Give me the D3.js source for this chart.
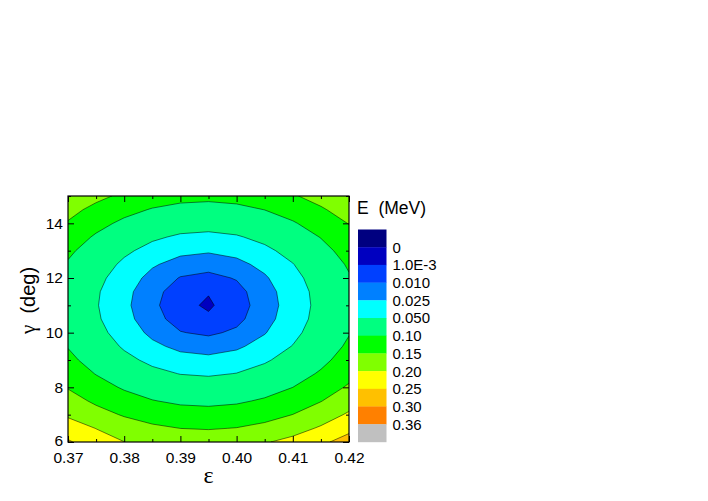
<!DOCTYPE html>
<html>
<head>
<meta charset="utf-8">
<script src="https://cdn.jsdelivr.net/npm/d3@7"></script>
<style>
  body { margin: 0; background: #fff; }
  text { font-family: Arial, 'Liberation Sans', sans-serif; fill: #000; }
</style>
</head>
<body>
<div id="chart"></div>
<script>
// grid of the energy surface, rows = gamma (bottom to top), columns = epsilon
const epsValues = [0.37, 0.375, 0.38, 0.385, 0.39, 0.395, 0.40, 0.405, 0.41, 0.415, 0.42]
const gammaValues = [6, 6.5, 7, 7.5, 8, 8.5, 9, 9.5, 10, 10.5, 11, 11.5, 12, 12.5, 13, 13.5, 14, 14.5, 15]

const energy = [
  [0.255, 0.226, 0.2005, 0.188, 0.181, 0.179, 0.184, 0.196, 0.214, 0.240, 0.271],
  [0.228, 0.199, 0.176, 0.1595, 0.1498, 0.147, 0.1515, 0.163, 0.181, 0.206, 0.237],
  [0.192, 0.1685, 0.1455, 0.129, 0.1193, 0.1165, 0.121, 0.1325, 0.1505, 0.1755, 0.2065],
  [0.1705, 0.1415, 0.1185, 0.102, 0.0923, 0.0895, 0.094, 0.1055, 0.1235, 0.1485, 0.1795],
  [0.147, 0.118, 0.095, 0.0785, 0.0688, 0.066, 0.0705, 0.082, 0.100, 0.125, 0.156],
  [0.1272, 0.0982, 0.0752, 0.0587, 0.049, 0.0462, 0.0507, 0.0622, 0.0802, 0.1052, 0.1362],
  [0.1108, 0.0818, 0.0588, 0.0423, 0.0326, 0.0298, 0.0343, 0.0458, 0.0638, 0.0888, 0.1198],
  [0.0981, 0.0691, 0.0461, 0.0296, 0.0199, 0.0171, 0.0216, 0.0331, 0.0511, 0.0761, 0.1071],
  [0.0888, 0.0598, 0.0368, 0.0203, 0.0106, 0.0078, 0.0123, 0.0238, 0.0418, 0.0668, 0.0978],
  [0.0831, 0.0541, 0.0311, 0.0146, 0.0049, 0.0021, 0.0066, 0.0181, 0.0361, 0.0611, 0.0921],
  [0.081, 0.052, 0.029, 0.0125, 0.0028, 0.0001, 0.0045, 0.016, 0.034, 0.059, 0.090],
  [0.0824, 0.0534, 0.0304, 0.0139, 0.0042, 0.0014, 0.0059, 0.0174, 0.0354, 0.0604, 0.0914],
  [0.0874, 0.0584, 0.0354, 0.0189, 0.0092, 0.0064, 0.0109, 0.0224, 0.0404, 0.0654, 0.0964],
  [0.0959, 0.0669, 0.0439, 0.0274, 0.0177, 0.0149, 0.0194, 0.0309, 0.0489, 0.0739, 0.1049],
  [0.108, 0.079, 0.056, 0.0395, 0.0298, 0.027, 0.0315, 0.043, 0.061, 0.086, 0.117],
  [0.1236, 0.0946, 0.0716, 0.0551, 0.0454, 0.0426, 0.0471, 0.0586, 0.0766, 0.1016, 0.1326],
  [0.1460, 0.1138, 0.0908, 0.0743, 0.0646, 0.0618, 0.0663, 0.0778, 0.0958, 0.1208, 0.1518],
  [0.1655, 0.1365, 0.1135, 0.097, 0.0873, 0.0845, 0.089, 0.1005, 0.1185, 0.1435, 0.1745],
  [0.1918, 0.1628, 0.1398, 0.1233, 0.1136, 0.1108, 0.1153, 0.1268, 0.1448, 0.1698, 0.2008]
]

// contour levels and colours (first colour is below the lowest level)
const levels = [0, 0.001, 0.01, 0.025, 0.05, 0.10, 0.15, 0.20, 0.25, 0.30, 0.36]
const levelLabels = ['0', '1.0E-3', '0.010', '0.025', '0.050', '0.10', '0.15', '0.20', '0.25', '0.30', '0.36']
const colors = ['#000080', '#0000C0', '#0040FF', '#0080FF', '#00FFFF', '#00FF80',
  '#00FF00', '#80FF00', '#FFFF00', '#FFC000', '#FF8000', '#C0C0C0']

const xMajor = [0.37, 0.38, 0.39, 0.40, 0.41, 0.42]
const xMinor = [0.375, 0.385, 0.395, 0.405, 0.415]
const yMajor = [6, 8, 10, 12, 14]
const yMinor = [7, 9, 11, 13, 15]

const width = 708
const height = 501
const plot = { left: 68, right: 349, top: 196, bottom: 442 }

const svg = d3
  .select('#chart')
  .append('svg')
  .attr('width', width)
  .attr('height', height)

const x = d3.scaleLinear().domain([0.37, 0.42]).range([plot.left, plot.right])
const y = d3.scaleLinear().domain([6, 15]).range([plot.bottom, plot.top])

svg
  .append('clipPath')
  .attr('id', 'plot-clip')
  .append('rect')
  .attr('x', plot.left)
  .attr('y', plot.top)
  .attr('width', plot.right - plot.left)
  .attr('height', plot.bottom - plot.top)

const nx = epsValues.length
const ny = gammaValues.length
const eStep = epsValues[1] - epsValues[0]
const gStep = gammaValues[1] - gammaValues[0]

const contours = d3
  .contours()
  .size([nx, ny])
  .thresholds(levels)(energy.flat())

// grid coords -> screen (d3.contours puts value i at i + 0.5)
const gridToScreen = d3.geoTransform({
  point: function(px, py) {
    this.stream.point(
      x(epsValues[0] + (px - 0.5) * eStep),
      y(gammaValues[0] + (py - 0.5) * gStep)
    )
  }
})
const path = d3.geoPath(gridToScreen)

const plotG = svg.append('g').attr('clip-path', 'url(#plot-clip)')

plotG
  .append('rect')
  .attr('x', plot.left)
  .attr('y', plot.top)
  .attr('width', plot.right - plot.left)
  .attr('height', plot.bottom - plot.top)
  .attr('fill', colors[0])

plotG
  .selectAll('.band')
  .data(contours)
  .enter()
  .append('path')
  .attr('class', 'band')
  .attr('d', path)
  .attr('fill', (d, i) => colors[i + 1])
  .attr('stroke', '#000')
  .attr('stroke-width', 0.6)
  .attr('stroke-opacity', 0.85)

// axes, ticks pointing inward on all four sides
function addAxis(axisFn, transform, values, size, labels) {
  const axis = axisFn
    .tickValues(values)
    .tickSizeInner(-size)
    .tickSizeOuter(0)
  if (!labels) axis.tickFormat('')
  const g = svg
    .append('g')
    .attr('transform', transform)
    .call(axis)
  g.select('.domain').remove()
  g.selectAll('line').attr('stroke', '#000').attr('stroke-width', 1)
  return g
}

const xb = addAxis(d3.axisBottom(x).tickPadding(10).tickFormat(d3.format('.2f')),
  `translate(0,${plot.bottom})`, xMajor, 6, true)
xb.selectAll('text').attr('font-size', 15.5).attr('font-family', 'Arial, Liberation Sans, sans-serif')
addAxis(d3.axisBottom(x), `translate(0,${plot.bottom})`, xMinor, 3, false)
addAxis(d3.axisTop(x), `translate(0,${plot.top})`, xMajor, 6, false)
addAxis(d3.axisTop(x), `translate(0,${plot.top})`, xMinor, 3, false)

const yl = addAxis(d3.axisLeft(y).tickPadding(5).tickFormat(d3.format('d')),
  `translate(${plot.left},0)`, yMajor, 6, true)
yl.selectAll('text').attr('font-size', 15.5).attr('font-family', 'Arial, Liberation Sans, sans-serif')
yl.selectAll('text').filter(d => d === 6).attr('dy', '0.2em')
addAxis(d3.axisLeft(y), `translate(${plot.left},0)`, yMinor, 3, false)
addAxis(d3.axisRight(y), `translate(${plot.right},0)`, yMajor, 6, false)
addAxis(d3.axisRight(y), `translate(${plot.right},0)`, yMinor, 3, false)

svg
  .append('rect')
  .attr('x', plot.left)
  .attr('y', plot.top)
  .attr('width', plot.right - plot.left)
  .attr('height', plot.bottom - plot.top)
  .attr('fill', 'none')
  .attr('stroke', '#000')
  .attr('stroke-width', 1.2)

// axis titles
svg
  .append('text')
  .attr('x', (plot.left + plot.right) / 2)
  .attr('y', 483)
  .attr('text-anchor', 'middle')
  .attr('font-size', 24)
  .style('font-family', "'Liberation Serif', 'Times New Roman', serif")
  .text('ε')

const yTitle = svg
  .append('text')
  .attr('transform', 'translate(35,334) rotate(-90)')
  .attr('font-size', 20)
yTitle
  .append('tspan')
  .style('font-family', "'Liberation Serif', 'Times New Roman', serif")
  .attr('font-size', 21)
  .text('γ')
yTitle.append('tspan').text('\u00a0\u00a0(deg)')

// legend
const legend = { left: 358, top: 229.5, w: 28.5, h: 17.7 }

svg
  .append('text')
  .attr('x', 357)
  .attr('y', 214)
  .attr('font-size', 17.5)
  .text('E\u00a0\u00a0(MeV)')

svg
  .selectAll('.swatch')
  .data(colors)
  .enter()
  .append('rect')
  .attr('class', 'swatch')
  .attr('x', legend.left)
  .attr('y', (d, i) => legend.top + i * legend.h)
  .attr('width', legend.w)
  .attr('height', legend.h + 0.3)
  .attr('fill', d => d)

svg
  .selectAll('.level-label')
  .data(levelLabels)
  .enter()
  .append('text')
  .attr('class', 'level-label')
  .attr('x', 392.5)
  .attr('y', (d, i) => legend.top + (i + 1) * legend.h)
  .attr('dy', '0.36em')
  .attr('font-size', 15)
  .text(d => d)
</script>
</body>
</html>
